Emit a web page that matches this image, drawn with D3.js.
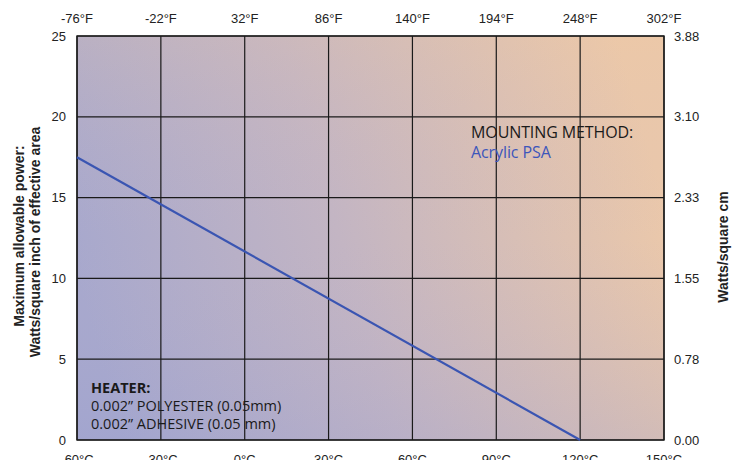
<!DOCTYPE html>
<html><head><meta charset="utf-8">
<script src="https://cdn.jsdelivr.net/npm/d3@7"></script>
<style>body{margin:0;background:#fff}svg{display:block}</style>
</head><body>
<svg id="c" width="736" height="460"></svg>
<script>
const celsiusTicks = [-60,-30,0,30,60,90,120,150];
const fahrenheitLabels = ["-76°F","-22°F","32°F","86°F","140°F","194°F","248°F","302°F"];
const powerTicks = [0,5,10,15,20,25];
const metricLabels = ["0.00","0.78","1.55","2.33","3.10","3.88"];
const lineTemps = [-60,120];
const linePower = [17.5,0];
const heaterLines = ["0.002\u201D POLYESTER (0.05mm)","0.002\u201D ADHESIVE (0.05 mm)"];

const svg = d3.select("#c");
const m = {l:77,r:664,t:36,b:440};
const x = d3.scaleLinear().domain([-60,150]).range([m.l,m.r]);
const y = d3.scaleLinear().domain([0,25]).range([m.b,m.t]);
const font = "'Liberation Sans', Arial, sans-serif";

const defs = svg.append("defs");
const g = defs.append("linearGradient").attr("id","bg").attr("x1","0").attr("y1","0.6").attr("x2","1").attr("y2","0.4");
g.append("stop").attr("offset","0").attr("stop-color","#a7a8cd");
g.append("stop").attr("offset","0.45").attr("stop-color","#c3b5c3");
g.append("stop").attr("offset","1").attr("stop-color","#ebc8aa");
const gv = defs.append("linearGradient").attr("id","bgv").attr("x1","0").attr("y1","0").attr("x2","0").attr("y2","1");
gv.append("stop").attr("offset","0").attr("stop-color","#f0c8a0").attr("stop-opacity",0.18);
gv.append("stop").attr("offset","0.5").attr("stop-color","#c0b0c8").attr("stop-opacity",0);
gv.append("stop").attr("offset","1").attr("stop-color","#8f9ad6").attr("stop-opacity",0.2);

svg.append("rect").attr("x",m.l).attr("y",m.t).attr("width",m.r-m.l).attr("height",m.b-m.t).attr("fill","url(#bg)");
svg.append("rect").attr("x",m.l).attr("y",m.t).attr("width",m.r-m.l).attr("height",m.b-m.t).attr("fill","url(#bgv)");

// grid
svg.append("g").selectAll("line").data(celsiusTicks).join("line")
  .attr("x1",d=>x(d)).attr("x2",d=>x(d)).attr("y1",m.t).attr("y2",m.b)
  .attr("stroke","#1a1a1a").attr("stroke-width",1.2);
svg.append("g").selectAll("line").data(powerTicks).join("line")
  .attr("y1",d=>y(d)).attr("y2",d=>y(d)).attr("x1",m.l).attr("x2",m.r)
  .attr("stroke","#1a1a1a").attr("stroke-width",1.2);
svg.append("rect").attr("x",m.l).attr("y",m.t).attr("width",m.r-m.l).attr("height",m.b-m.t)
  .attr("fill","none").attr("stroke","#1a1a1a").attr("stroke-width",1.4);

// tick labels
const tl = svg.append("g").attr("font-family",font).attr("font-size",13).attr("fill","#222");
tl.selectAll("text.f").data(fahrenheitLabels).join("text").attr("class","f")
  .attr("x",(d,i)=>x(celsiusTicks[i])).attr("y",23).attr("text-anchor","middle").text(d=>d);
tl.selectAll("text.c").data(celsiusTicks).join("text").attr("class","c")
  .attr("x",d=>x(d)).attr("y",464).attr("text-anchor","middle").text(d=>d+"°C");
tl.selectAll("text.l").data(powerTicks).join("text").attr("class","l")
  .attr("x",66).attr("y",d=>y(d)+4.5).attr("text-anchor","end").text(d=>d);
tl.selectAll("text.r").data(metricLabels).join("text").attr("class","r")
  .attr("x",674).attr("y",(d,i)=>y(powerTicks[i])+4.5).attr("text-anchor","start").text(d=>d);

// axis titles
const tf = svg.append("g").attr("font-family",font).attr("font-size",14).attr("font-weight","bold").attr("fill","#222");
tf.append("text").attr("transform","translate(24,236) rotate(-90)").attr("text-anchor","middle").text("Maximum allowable power:");
tf.append("text").attr("transform","translate(40,242) rotate(-90)").attr("text-anchor","middle").text("Watts/square inch of effective area");
tf.append("text").attr("transform","translate(728,247) rotate(-90)").attr("text-anchor","middle").text("Watts/square cm");

// line
svg.append("path").datum(lineTemps.map((t,i)=>[t,linePower[i]]))
  .attr("d",d3.line().x(d=>x(d[0])).y(d=>y(d[1])))
  .attr("fill","none").attr("stroke","#3a55b2").attr("stroke-width",2.2);

// annotations
const af = "'Open Sans', 'Noto Sans', sans-serif";
svg.append("text").attr("x",471).attr("y",138).attr("font-family",af).attr("font-size",16).attr("letter-spacing","-0.1").attr("fill","#1a1a1a").text("MOUNTING METHOD:");
svg.append("text").attr("x",471).attr("y",158).attr("font-family",af).attr("font-size",16).attr("letter-spacing","-0.1").attr("fill","#3d56bb").text("Acrylic PSA");
svg.append("text").attr("x",91).attr("y",393).attr("font-family",af).attr("font-size",14.5).attr("font-weight","bold").attr("fill","#1a1a1a").text("HEATER:");
svg.append("g").selectAll("text").data(heaterLines).join("text")
  .attr("x",91).attr("y",(d,i)=>411+i*18).attr("font-family",af).attr("font-size",14.5).attr("fill","#1a1a1a").text(d=>d);
</script>
</body></html>
